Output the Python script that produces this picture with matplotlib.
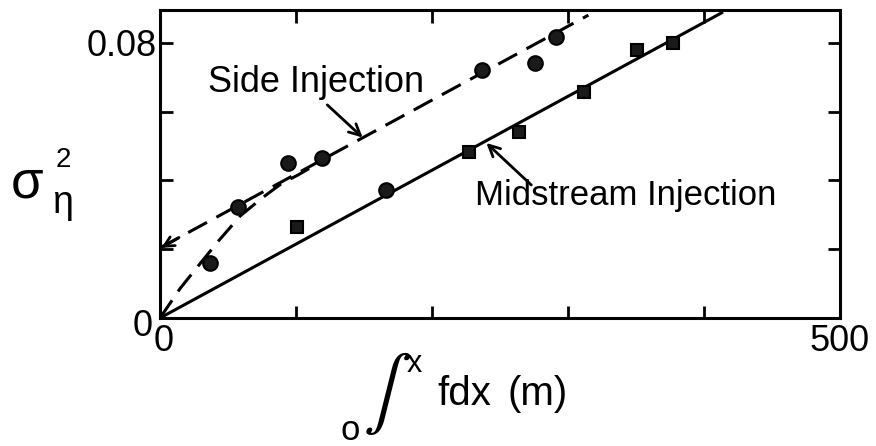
import matplotlib
matplotlib.use("Agg")
import matplotlib.pyplot as plt
from matplotlib.transforms import ScaledTranslation

# ---- data ----
side_x = [37, 57, 94, 119, 166, 237, 276, 291]
side_y = [0.0160, 0.0323, 0.0451, 0.0465, 0.0372, 0.0721, 0.0742, 0.0817]

mid_x = [101, 227, 264, 312, 351, 377]
mid_y = [0.0265, 0.0483, 0.0541, 0.0657, 0.0780, 0.0800]

# fitted lines
side_line_x = [0, 315]
side_line_y = [0.0204, 0.0881]
mid_line_x = [0, 414]
mid_line_y = [0.0, 0.0890]
# curved dashed line from origin joining the side-injection line
curve_x = [0, 15, 28, 43, 59, 75, 90, 101, 115]
curve_y = [0.0, 0.0087, 0.0151, 0.0224, 0.0297, 0.0349, 0.0393, 0.0415, 0.0447]

x_ticks = [0, 100, 200, 300, 400, 500]
x_tick_labels = ["0", "", "", "", "", "500"]
y_ticks = [0, 0.02, 0.04, 0.06, 0.08]
y_tick_labels = ["0", "", "", "", "0.08"]

W, H = 876, 446
FONT = "Liberation Sans"
plt.rcParams["font.family"] = [FONT, "DejaVu Sans"]

fig = plt.figure(figsize=(W / 100, H / 100), dpi=100)
ax = fig.add_axes([160 / W, 1 - 318 / H, (840 - 160) / W, (318 - 10) / H])
ax.set_xlim(0, 500)
ax.set_ylim(0, 0.0896)

lw = 2.2
dash = (0, (7, 3.5))
ax.plot(mid_line_x, mid_line_y, color="black", lw=lw, solid_capstyle="butt")
ax.plot(side_line_x, side_line_y, color="black", lw=lw, linestyle=dash)
ax.plot(curve_x, curve_y, color="black", lw=lw, linestyle=dash)

ax.plot(side_x, side_y, linestyle="none", marker="o", markersize=10.5,
        markerfacecolor="#1a1a1a", markeredgecolor="black", markeredgewidth=1.5)
ax.plot(mid_x, mid_y, linestyle="none", marker="s", markersize=8.5,
        markerfacecolor="#1a1a1a", markeredgecolor="black", markeredgewidth=1.5)

# arrowhead of the side line at the y axis
ax.annotate("", xy=(1, side_line_y[0]), xytext=(14, side_line_y[0] + 14 * 0.000215),
            arrowprops=dict(arrowstyle="->", lw=2, color="black",
                            mutation_scale=18, shrinkA=0, shrinkB=0))

# labels with arrows
ax.annotate("", xy=(149, 0.0525), xytext=(123, 0.0620),
            arrowprops=dict(arrowstyle="->", lw=2, color="black",
                            mutation_scale=20, shrinkA=0, shrinkB=0))
ax.text(35.5, 0.0657, "Side Injection", fontsize=26, ha="left", va="baseline")
ax.annotate("", xy=(240, 0.0509), xytext=(273, 0.0387),
            arrowprops=dict(arrowstyle="->", lw=2, color="black",
                            mutation_scale=20, shrinkA=0, shrinkB=0))
ax.text(231.5, 0.0329, "Midstream Injection", fontsize=25, ha="left", va="baseline")

# axes styling
for s in ax.spines.values():
    s.set_linewidth(2.2)
ax.set_xticks(x_ticks)
ax.set_xticklabels(x_tick_labels)
ax.set_yticks(y_ticks)
ax.set_yticklabels(y_tick_labels)
ax.tick_params(direction="in", length=9, width=2, top=True, right=True,
               labelsize=26)
ax.tick_params(axis="x", pad=4)
ax.tick_params(axis="y", pad=2)

# nudge the two zero labels apart, as in the reference
ylab0 = ax.get_yticklabels()[0]
ylab0.set_transform(ylab0.get_transform() + ScaledTranslation(-5 / 100, -5 / 100, fig.dpi_scale_trans))
xlab0 = ax.get_xticklabels()[0]
xlab0.set_transform(xlab0.get_transform() + ScaledTranslation(4 / 100, 0, fig.dpi_scale_trans))

# y label sigma_eta^2
fig.text(27 / W, 1 - 183 / H, "σ", fontsize=38, ha="center", va="center")
fig.text(62 / W, 1 - 203 / H, "η", fontsize=27, ha="center", va="center")
fig.text(63 / W, 1 - 160 / H, "2", fontsize=20, ha="center", va="center")

# x label  o∫x fdx (m)
fig.text(350 / W, 1 - 431 / H, "o", fontsize=25, ha="center", va="center")
fig.text(380 / W, 1 - 394 / H, "∫", fontsize=52, ha="center", va="center",
         family="STIXGeneral")
fig.text(414 / W, 1 - 364 / H, "x", fontsize=22, ha="center", va="center")
fig.text(437 / W, 1 - 405 / H, "fdx", fontsize=29, ha="left", va="baseline")
fig.text(507 / W, 1 - 405 / H, "(m)", fontsize=29, ha="left", va="baseline")

fig.savefig("out.png", dpi=100)
